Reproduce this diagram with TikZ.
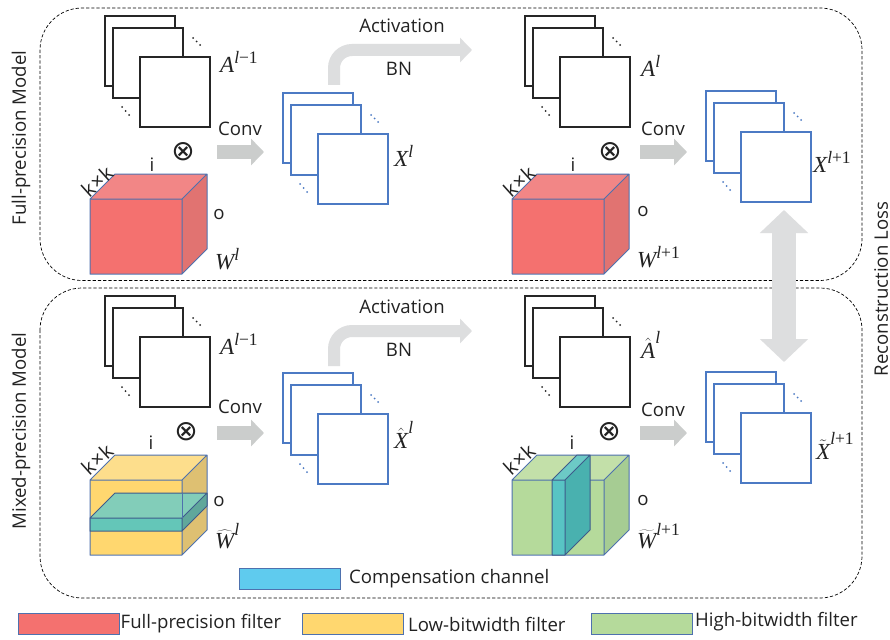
\documentclass[tikz,border=0pt]{standalone}
\usepackage{fontspec}
\setmainfont{Open Sans}
\newfontfamily\mvf{Liberation Serif}
\newfontfamily\opf{DejaVu Sans}
\usetikzlibrary{arrows.meta}
\definecolor{txt}{HTML}{222222}
\definecolor{bluee}{HTML}{4C7AC4}
\definecolor{cubee}{HTML}{4E71AE}
\definecolor{convg}{HTML}{CBCDCC}
\definecolor{actg}{HTML}{DDDEDF}
\definecolor{rf}{HTML}{F4716F}\definecolor{rt}{HTML}{F28686}\definecolor{rs}{HTML}{E17371}
\definecolor{yf}{HTML}{FFD76F}\definecolor{yt}{HTML}{FDDE8C}\definecolor{ys}{HTML}{DEC072}
\definecolor{gf}{HTML}{B5DA9B}\definecolor{gt}{HTML}{C3E0A9}\definecolor{gs}{HTML}{A6CC93}
\definecolor{tf}{HTML}{64C6B8}\definecolor{tt}{HTML}{82CDB9}\definecolor{ts}{HTML}{60A79B}
\definecolor{cf}{HTML}{58C4C4}\definecolor{ct}{HTML}{6CC9C6}\definecolor{cs}{HTML}{49B1AF}
\definecolor{comp}{HTML}{5FCBEE}
\definecolor{blk}{HTML}{262626}
\newcommand{\bsv}[1]{\mbox{\fontsize{23}{23}\selectfont\mvf\itshape #1}}
\newcommand{\supv}[1]{^{\mbox{\fontsize{17.5}{17.5}\selectfont\mvf #1}}}
\newcommand{\lv}{\textit{l}}
\tikzset{
  lbl/.style={font=\fontsize{18.6}{20}\selectfont,text=txt,inner sep=0pt},
  mathl/.style={font=\fontsize{22}{24}\selectfont,text=txt,inner sep=0pt},
  opl/.style={font=\fontsize{28}{30}\selectfont\opf,text=txt,inner sep=0pt},
  sheet/.style={draw=#1,fill=white,line width=1.6pt,minimum size=70pt,inner sep=0pt,anchor=north west,rectangle},
  dashbox/.style={draw=black,line width=0.7pt,dash pattern=on 3.2pt off 2pt,rounded corners=42pt},
  convarrow/.style={draw=convg,line width=14pt,-{Triangle[length=13pt,width=26pt]}},
  actarrow/.style={draw=actg,line width=12pt,rounded corners=18pt,-{Triangle[length=12pt,width=24pt]}},
  lossarrow/.style={draw=actg,line width=24pt,{Triangle[length=23pt,width=47pt]}-{Triangle[length=23pt,width=47pt]}},
  swatch/.style={draw=cubee,line width=0.9pt,minimum width=101pt,minimum height=21pt,inner sep=0pt,anchor=north west,rectangle},
  kk/.style={lbl,font=\fontsize{20}{22}\selectfont,rotate=42},
  rotl/.style={lbl,rotate=90},
}
\newcommand{\kxk}{k\kern1pt×\kern1pt k}
\newcommand{\stackset}[4]{% name, x, y, colour
  \begin{scope}[shift={(#2,#3)}]
    \node[sheet=#4] (#1b) at (0,0) {};
    \node[sheet=#4] (#1m) at (8,12) {};
    \node[sheet=#4] (#1f) at (35,41) {};
    \foreach \p in {(89,23),(92.5,26.5),(96,30),(18,92),(21.5,96),(25,100)}
      \fill[#4] \p circle (1pt);
  \end{scope}}
\newcommand{\cubeset}[6]{% name,x,y,front,top,side
  \begin{scope}[shift={(#2,#3)}]
    \node[draw=none,minimum width=92pt,minimum height=75pt,inner sep=0pt,anchor=north west] (#1) at (0,0) {};
    \fill[#5] (0,0) -- (25,-25) -- (117,-25) -- (92,0) -- cycle;
    \fill[#6] (92,0) -- (117,-25) -- (117,50) -- (92,75) -- cycle;
    \fill[#4] (0,0) rectangle (92,75);
    \draw[cubee,line width=1pt,line join=round] (0,0) rectangle (92,75)
      (0,0) -- (25,-25) -- (117,-25) -- (92,0)
      (117,-25) -- (117,50) -- (92,75);
  \end{scope}}
\begin{document}
\begin{tikzpicture}[x=1pt,y=-1pt]
\useasboundingbox (0,0) rectangle (890,639);
\fill[white] (0,0) rectangle (890,639);
% dashed panels
\path[dashbox] (40,8) rectangle (862,280.5);
\path[dashbox] (40,288) rectangle (862,598);
% rotated labels
\node[rotl] (fpm) at (21,138) {Full-precision Model};
\node[rotl] (mpm) at (21,431) {Mixed-precision Model};
\node[rotl] (rl) at (881,289) {Reconstruction Loss};
% upper row stacks
\stackset{aa}{104}{15}{blk}
\stackset{xa}{282}{92}{bluee}
\stackset{ab}{524}{15}{blk}
\stackset{xb}{705}{90}{bluee}
% lower row stacks
\stackset{ac}{104}{295}{blk}
\stackset{xc}{282}{372}{bluee}
\stackset{ad}{524}{295}{blk}
\stackset{xd}{705}{371}{bluee}
% cubes upper
\cubeset{wa}{90}{199}{rf}{rt}{rs}
\cubeset{wb}{512}{199}{rf}{rt}{rs}
% cube low-bitwidth
\cubeset{wc}{90}{480}{yf}{yt}{ys}
\begin{scope}[shift={(90,518)}]
  \fill[tt] (0,0) -- (25,-25) -- (117,-25) -- (92,0) -- cycle;
  \fill[ts] (92,0) -- (117,-25) -- (117,-12) -- (92,13) -- cycle;
  \fill[tf] (0,0) rectangle (92,13);
  \draw[cubee!80!black,line width=1pt,line join=round] (0,0) rectangle (92,13)
    (0,0) -- (25,-25) -- (117,-25) -- (92,0) (117,-25) -- (117,-12) -- (92,13);
\end{scope}
\draw[cubee,line width=0.8pt] (182,493) -- (182,518);
% cube high-bitwidth
\cubeset{wd}{512}{480}{gf}{gt}{gs}
\begin{scope}[shift={(552,480)}]
  \fill[ct] (0,0) -- (25,-25) -- (38,-25) -- (13,0) -- cycle;
  \fill[cs] (13,0) -- (38,-25) -- (38,50) -- (13,75) -- cycle;
  \fill[cf] (0,0) rectangle (13,75);
  \draw[cubee!80!black,line width=1pt,line join=round] (0,0) rectangle (13,75)
    (0,0) -- (25,-25) -- (38,-25) -- (13,0) (38,-25) -- (38,50) -- (13,75);
\end{scope}
% otimes
\node[opl] (opa) at (183,152) {⊗};
\node[opl] (opb) at (610,152) {⊗};
\node[opl] (opc) at (186,432) {⊗};
\node[opl] (opd) at (609,432) {⊗};
% cube labels
\node[lbl] (ia) at (152,165) {i};
\node[lbl] (ib) at (573,165) {i};
\node[lbl] (ic) at (151,443) {i};
\node[lbl] (id) at (572,443) {i};
\node[kk] (ka) at (97,181) {\kxk};
\node[kk] (kb) at (519,181) {\kxk};
\node[kk] (kc) at (97,459) {\kxk};
\node[kk] (kd) at (519,459) {\kxk};
\node[lbl] (oa) at (219,215) {o};
\node[lbl] (ob) at (643,212) {o};
\node[lbl] (oc) at (219,502) {o};
\node[lbl] (od) at (643,501) {o};
% math labels
\node[mathl,anchor=west] (ma1) at (220,62) {$\bsv{A}\supv{\lv−1}$};
\node[mathl,anchor=west] (ma2) at (641,66) {$\bsv{A}\supv{\lv}$};
\node[mathl,anchor=west] (ma3) at (220,344) {$\bsv{A}\supv{\lv−1}$};
\node[mathl,anchor=west] (ma4) at (641,345) {$\hat{\bsv{A}}\supv{\lv}$};
\node[mathl,anchor=west] (mx1) at (394,156) {$\bsv{X}\supv{\lv}$};
\node[mathl,anchor=west] (mx2) at (813,162) {$\bsv{X}\supv{\lv+1}$};
\node[mathl,anchor=west] (mx3) at (394,435) {$\hat{\bsv{X}}\supv{\lv}$};
\node[mathl,anchor=west] (mx4) at (816,446) {$\tilde{\bsv{X}}\supv{\lv+1}$};
\node[mathl,anchor=west] (mw1) at (215,259) {$\bsv{W}\supv{\lv}$};
\node[mathl,anchor=west] (mw2) at (637,257) {$\bsv{W}\supv{\lv+1}$};
\node[mathl,anchor=west] (mw3) at (215,536) {$\widehat{\bsv{W}}\supv{\lv}$};
\node[mathl,anchor=west] (mw4) at (637,536) {$\widetilde{\bsv{W}}\supv{\lv+1}$};
% conv
\node[lbl] (ca) at (240,129) {Conv};
\node[lbl] (cb) at (663,129) {Conv};
\node[lbl] (cc) at (240,407) {Conv};
\node[lbl] (cd) at (663,410) {Conv};
\coordinate (cas) at (217,152); \coordinate (cae) at (264,152);
\coordinate (cbs) at (640,152); \coordinate (cbe) at (687,152);
\coordinate (ccs) at (217,433); \coordinate (cce) at (264,433);
\coordinate (cds) at (640,433); \coordinate (cde) at (687,433);
\draw[convarrow] (cas) -- (cae);
\draw[convarrow] (cbs) -- (cbe);
\draw[convarrow] (ccs) -- (cce);
\draw[convarrow] (cds) -- (cde);
% activation
\node[lbl] (acta) at (402,26) {Activation};
\node[lbl] (bna) at (399,69) {BN};
\node[lbl] (actb) at (402,307) {Activation};
\node[lbl] (bnb) at (399,350) {BN};
\coordinate (aas) at (334,85); \coordinate (aac) at (334,50); \coordinate (aae) at (472,50);
\coordinate (abs) at (334,366); \coordinate (abc) at (334,331); \coordinate (abe) at (472,331);
\draw[actarrow] (aas) -- (aac) -- (aae);
\draw[actarrow] (abs) -- (abc) -- (abe);
% loss
\coordinate (lt) at (784,210); \coordinate (lb) at (784,362);
\draw[lossarrow] (lt) -- (lb);
% legend
\node[swatch,fill=comp] (sc) at (239,568) {};
\node[lbl,anchor=west] (tc) at (349,579) {Compensation channel};
\node[swatch,fill=rf] (sr) at (18,613) {};
\node[lbl,anchor=west] (tr) at (120.5,624) {Full-precision filter};
\node[swatch,fill=yf] (sy) at (302,613) {};
\node[lbl,anchor=west] (ty) at (408,624) {Low-bitwidth filter};
\node[swatch,fill=gf] (sg) at (591,613) {};
\node[lbl,anchor=west] (tg) at (695,622) {High-bitwidth filter};
\end{tikzpicture}
\end{document}
